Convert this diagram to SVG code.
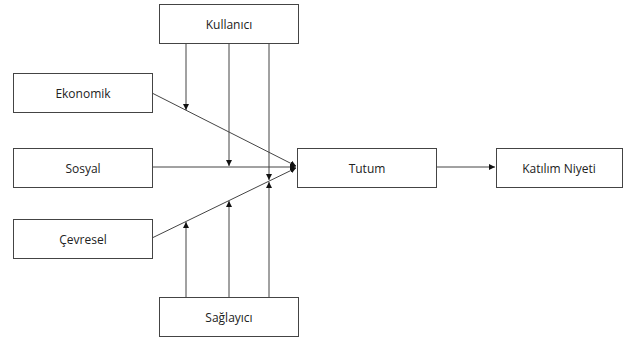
<svg xmlns="http://www.w3.org/2000/svg" width="625" height="340" viewBox="0 0 625 340">
<style>
.box{fill:#fff;stroke:#444;stroke-width:1}
.lbl{font-family:"Open Sans","Liberation Sans",sans-serif;font-size:12px;fill:#222;text-anchor:middle;dominant-baseline:central}
.ln{stroke:#444;stroke-width:1;fill:none}
</style>
<defs>
<marker id="ah" viewBox="0 0 8 8" refX="8" refY="4" markerWidth="6" markerHeight="6" orient="auto" markerUnits="userSpaceOnUse">
<path d="M0,0 L8,4 L0,8 z" fill="#111"/>
</marker>
</defs>
<rect width="625" height="340" fill="#fff"/>
<g id="connectors">
<line class="ln" x1="152" y1="93" x2="296" y2="166" marker-end="url(#ah)"/>
<line class="ln" x1="152" y1="167" x2="296" y2="167" marker-end="url(#ah)"/>
<line class="ln" x1="152" y1="238" x2="296" y2="168" marker-end="url(#ah)"/>
<line class="ln" x1="186" y1="43" x2="186" y2="110" marker-end="url(#ah)"/>
<line class="ln" x1="229" y1="43" x2="229" y2="166" marker-end="url(#ah)"/>
<line class="ln" x1="269" y1="43" x2="269" y2="180" marker-end="url(#ah)"/>
<line class="ln" x1="186" y1="297" x2="186" y2="222" marker-end="url(#ah)"/>
<line class="ln" x1="229" y1="297" x2="229" y2="201" marker-end="url(#ah)"/>
<line class="ln" x1="269" y1="297" x2="269" y2="182" marker-end="url(#ah)"/>
<line class="ln" x1="437" y1="167" x2="495" y2="167" marker-end="url(#ah)"/>
</g>
<g id="kullanici"><rect class="box" x="159.5" y="4.5" width="139" height="39"/><text class="lbl" x="229" y="24">Kullanıcı</text></g>
<g id="ekonomik"><rect class="box" x="13.5" y="73.5" width="139" height="39"/><text class="lbl" x="83" y="93">Ekonomik</text></g>
<g id="sosyal"><rect class="box" x="13.5" y="148.5" width="139" height="39"/><text class="lbl" x="83" y="168">Sosyal</text></g>
<g id="cevresel"><rect class="box" x="13.5" y="219.5" width="139" height="39"/><text class="lbl" x="83" y="239">Çevresel</text></g>
<g id="saglayici"><rect class="box" x="159.5" y="297.5" width="139" height="39"/><text class="lbl" x="229" y="317">Sağlayıcı</text></g>
<g id="tutum"><rect class="box" x="297.5" y="148.5" width="139" height="39"/><text class="lbl" x="367" y="168">Tutum</text></g>
<g id="katilim"><rect class="box" x="496.5" y="148.5" width="126" height="39"/><text class="lbl" x="559" y="168">Katılım Niyeti</text></g>
</svg>
